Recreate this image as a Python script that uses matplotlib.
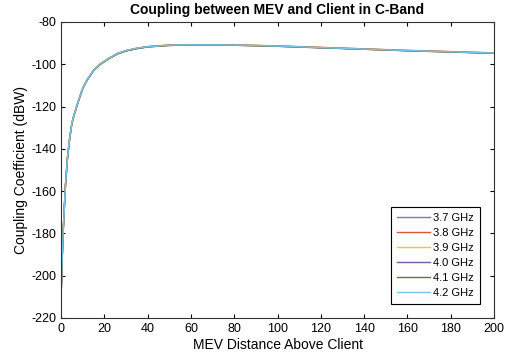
import matplotlib
matplotlib.use("Agg")
import matplotlib.pyplot as plt

plt.rcParams["font.family"] = ["Liberation Sans", "DejaVu Sans"]
plt.rcParams["axes.unicode_minus"] = False

# distance above client
distancia = [0.1, 0.5, 1, 2, 3, 4, 5, 6, 8, 10, 12, 15, 18, 22, 26, 30,
             35, 40, 50, 60, 70, 80, 100, 120, 140, 160, 180, 200]

frecuencias = ["3.7 GHz", "3.8 GHz", "3.9 GHz", "4.0 GHz", "4.1 GHz", "4.2 GHz"]

acople_37 = [-207.0, -193.0, -179.0, -158.0, -144.0, -135.0, -128.0, -124.0, -117.5, -111.5,
             -107.5, -103.0, -100.0, -97.3, -95.0, -93.6, -92.5, -91.7, -91.0, -90.8,
             -90.8, -90.9, -91.4, -92.1, -92.8, -93.5, -94.1, -94.7]
acople_38 = [-207.2, -193.2, -179.1, -158.1, -144.1, -135.1, -128.0, -124.0, -117.4, -111.4,
             -107.4, -102.9, -99.9, -97.2, -94.9, -93.5, -92.4, -91.6, -90.9, -90.7,
             -90.7, -90.8, -91.3, -92.0, -92.7, -93.4, -94.0, -94.6]
acople_39 = [-207.1, -193.1, -179.0, -158.0, -144.0, -135.0, -128.1, -124.1, -117.5, -111.5,
             -107.5, -103.0, -100.0, -97.3, -95.0, -93.6, -92.5, -91.7, -91.0, -90.8,
             -90.8, -90.9, -91.4, -92.1, -92.8, -93.5, -94.1, -94.7]
acople_40 = [-207.3, -193.3, -179.2, -158.2, -144.2, -135.2, -128.2, -124.1, -117.6, -111.6,
             -107.6, -103.1, -100.1, -97.4, -95.1, -93.7, -92.6, -91.8, -91.1, -90.9,
             -90.9, -91.0, -91.5, -92.2, -92.9, -93.6, -94.2, -94.8]
acople_41 = [-207.0, -193.0, -179.0, -158.0, -144.0, -135.0, -128.0, -124.0, -117.5, -111.5,
             -107.5, -103.0, -100.1, -97.4, -95.1, -93.7, -92.6, -91.8, -91.1, -90.9,
             -90.9, -91.0, -91.5, -92.2, -92.9, -93.6, -94.2, -94.8]
acople_42 = [-206.8, -192.8, -178.9, -157.9, -143.9, -134.9, -127.9, -123.9, -117.4, -111.4,
             -107.4, -102.9, -99.9, -97.2, -94.9, -93.5, -92.4, -91.7, -91.0, -90.8,
             -90.8, -90.9, -91.4, -92.1, -92.8, -93.5, -94.1, -94.7]

series = [acople_37, acople_38, acople_39, acople_40, acople_41, acople_42]
colores = ["#6b7fb8", "#d9533a", "#e8c93a", "#7a5ba0", "#5e7a2e", "#7cc3e8"]

fig = plt.figure(figsize=(5.06, 3.64), dpi=100)
ax = fig.add_axes([0.1206, 0.1264, 0.8557, 0.8132])

for etiqueta, valores, color in zip(frecuencias, series, colores):
    ax.plot(distancia, valores, color=color, linewidth=1.0, label=etiqueta)

ax.set_xlim(0, 200)
ax.set_ylim(-220, -80)
ax.set_xticks(range(0, 201, 20))
ax.set_yticks(range(-220, -79, 20))
ax.tick_params(direction="in", top=True, right=True, labelsize=9, length=3)
for lado in ax.spines.values():
    lado.set_color("#333333")

ax.set_title("Coupling between MEV and Client in C-Band", fontsize=10,
             fontweight="bold", pad=6)
ax.set_xlabel("MEV Distance Above Client", fontsize=10, labelpad=2)
ax.set_ylabel("Coupling Coefficient (dBW)", fontsize=10, labelpad=2)

leyenda = ax.legend(loc="lower right", bbox_to_anchor=(0.98, 0.03), fontsize=8,
                    handlelength=3.0, handletextpad=0.3, fancybox=False, framealpha=1,
                    edgecolor="black", borderpad=0.5, labelspacing=0.45)
leyenda.get_frame().set_linewidth(0.8)

fig.savefig("out.png", dpi=100)
